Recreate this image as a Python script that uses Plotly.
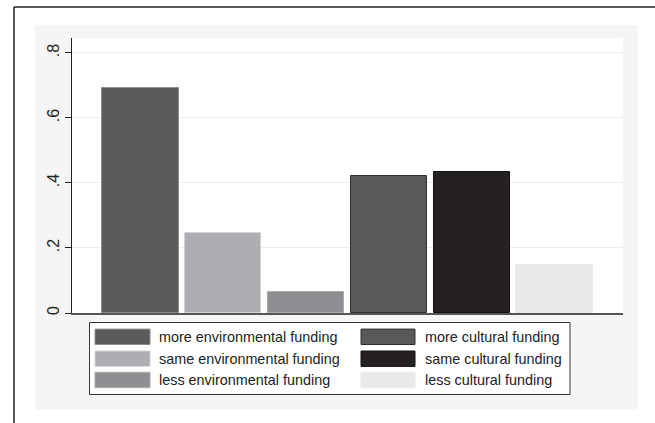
import plotly.graph_objects as go

# ---- data ----
categories = [
    "more environmental funding",
    "same environmental funding",
    "less environmental funding",
    "more cultural funding",
    "same cultural funding",
    "less cultural funding",
]
values = [0.691, 0.247, 0.065, 0.423, 0.433, 0.148]
tick_vals = [0, 0.2, 0.4, 0.6, 0.8]
tick_text = ["0", ".2", ".4", ".6", ".8"]

# ---- styles ----
fill_colors = ["#5b5b5d", "#adaeb1", "#8e8f92", "#58595b", "#252122", "#e8e9eb"]
line_colors = ["#8c8c8e", "#d2d3d5", "#a9aaac", "#2e2e30", "#121212", "#e8e9eb"]

W, H = 655, 423
L, R, T, B = 72, 623, 38, 313  # plot area in pixels


def px(x):
    return (x - L) / (R - L)


def py(y):
    return (B - y) / (B - T)


FONT = "Liberation Sans, Arial, sans-serif"

fig = go.Figure()
fig.add_trace(
    go.Bar(
        x=categories,
        y=values,
        width=0.92,
        marker=dict(color=fill_colors, line=dict(color=line_colors, width=1)),
        showlegend=False,
        hoverinfo="x+y",
    )
)

shapes = []
# outer page border (top and left)
shapes.append(dict(type="line", xref="paper", yref="paper",
                   x0=px(14), x1=px(660), y0=py(7), y1=py(7),
                   line=dict(color="#222222", width=1.5), layer="above"))
shapes.append(dict(type="line", xref="paper", yref="paper",
                   x0=px(14), x1=px(14), y0=py(7), y1=py(430),
                   line=dict(color="#222222", width=1.5), layer="above"))
# light gray graph region
shapes.append(dict(type="rect", xref="paper", yref="paper",
                   x0=px(35), x1=px(638), y0=py(25), y1=py(410),
                   fillcolor="#f5f5f5", line=dict(width=0), layer="below"))
# white plot region
shapes.append(dict(type="rect", xref="paper", yref="paper",
                   x0=0, x1=1, y0=0, y1=1,
                   fillcolor="#ffffff", line=dict(width=0), layer="below"))
# legend box
shapes.append(dict(type="rect", xref="paper", yref="paper",
                   x0=px(89.5), x1=px(570), y0=py(322.5), y1=py(394.5),
                   fillcolor="#ffffff", line=dict(color="#333333", width=1), layer="above"))

annotations = []
row_centers = [336.8, 358.7, 380.0]
col_sw_x = [(95, 150), (361, 415)]
col_txt_x = [157, 423]
for i, name in enumerate(categories):
    col = i // 3
    row = i % 3
    yc = row_centers[row]
    x0, x1 = col_sw_x[col]
    shapes.append(dict(type="rect", xref="paper", yref="paper",
                       x0=px(x0), x1=px(x1), y0=py(yc - 7.7), y1=py(yc + 7.7),
                       fillcolor=fill_colors[i],
                       line=dict(color=line_colors[i], width=1), layer="above"))
    annotations.append(dict(xref="paper", yref="paper", x=px(col_txt_x[col]), y=py(yc),
                            text=name, showarrow=False, xanchor="left", yanchor="middle",
                            font=dict(family=FONT, size=14.4, color="#222222")))

fig.update_layout(
    width=W, height=H,
    margin=dict(l=L, r=W - R, t=T, b=H - B, pad=0),
    paper_bgcolor="#ffffff",
    plot_bgcolor="#ffffff",
    shapes=shapes,
    annotations=annotations,
    bargap=0,
    font=dict(family=FONT, size=14.4, color="#222222"),
    xaxis=dict(
        range=[-0.826, 5.826],
        showticklabels=False,
        ticks="",
        showgrid=False,
        showline=True,
        linecolor="#555555",
        linewidth=1.5,
        zeroline=False,
        fixedrange=True,
    ),
    yaxis=dict(
        range=[0, 0.846],
        tickvals=tick_vals,
        ticktext=tick_text,
        tickangle=-90,
        ticks="outside",
        ticklen=6,
        tickwidth=1,
        tickcolor="#222222",
        showline=True,
        linecolor="#222222",
        linewidth=1.2,
        showgrid=True,
        gridcolor="#ececec",
        gridwidth=1,
        zeroline=False,
        tickfont=dict(family=FONT, size=16, color="#222222"),
        fixedrange=True,
    ),
)

fig.write_html(
    "out.html",
    config={"displayModeBar": False},
    post_script="document.body.style.margin='0';document.body.style.overflow='hidden';",
)
